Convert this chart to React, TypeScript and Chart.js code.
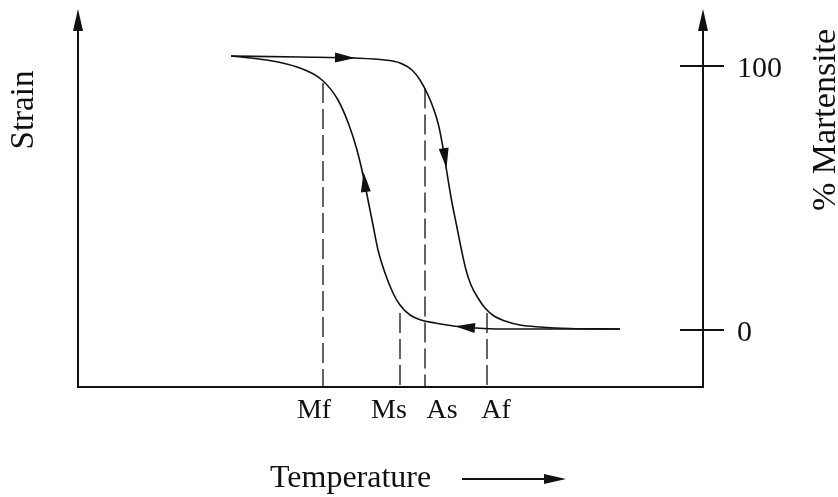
import React, { useEffect, useRef } from "react";
import { Chart, registerables } from "chart.js";

Chart.register(...registerables);

// Heating path (upper branch): temperature vs % martensite
const heatingX = [24.48, 35.52, 44.32, 49.12, 51.52, 53.44, 54.72, 56.0, 56.96, 57.68, 58.32, 58.96, 59.76, 60.56, 61.36, 62.08, 62.88, 64.0, 65.12, 66.56, 68.32, 70.72, 73.92, 78.72, 86.72];
const heatingY = [103.79, 103.41, 103.03, 102.27, 101.14, 98.48, 94.7, 89.02, 83.33, 77.65, 70.08, 60.61, 49.24, 39.77, 30.3, 22.73, 17.05, 12.12, 8.33, 5.3, 3.41, 1.89, 1.14, 0.57, 0.38];

// Cooling path (lower branch)
const coolingX = [24.48, 30.24, 35.04, 39.04, 41.6, 43.36, 44.64, 45.6, 46.4, 47.2, 48.0, 49.12, 50.4, 51.52, 53.12, 54.88, 57.12, 59.04, 61.44, 63.52, 67.52, 86.72];
const coolingY = [103.79, 102.27, 99.62, 94.7, 87.12, 77.65, 68.18, 58.71, 49.24, 39.77, 30.3, 21.59, 14.02, 9.47, 5.68, 3.79, 2.65, 1.89, 1.14, 0.76, 0.38, 0.38];

// Transformation temperatures (dashed markers)
const transNames = ["Mf", "Ms", "As", "Af"];
const transX = [39.2, 51.52, 55.52, 65.44];
const transTopY = [93.56, 6.44, 91.5, 6.44];
const transLabelX = [37.76, 49.76, 58.24, 66.88];

// Direction arrows on the curves (tip and base points)
const arrowTipX = [44.32, 58.96, 45.68, 60.32];
const arrowTipY = [103.03, 61.36, 59.85, 1.4];
const arrowBaseX = [41.12, 58.48, 46.08, 63.2];
const arrowBaseY = [103.18, 69.32, 51.89, 0.8];

// Right axis ticks
const martensiteTicks = [0, 100];
const martensiteTickLabels = ["0", "100"];

const X_MIN = 0;
const X_MAX = 100;
const Y_MIN = -21.6;
const Y_MAX = 121.6;

const FONT = '"Liberation Serif", "Times New Roman", serif';
const INK = "#111";

function zip(xs: number[], ys: number[]) {
  return xs.map((x, i) => ({ x, y: ys[i] }));
}

function arrowHead(ctx: CanvasRenderingContext2D, tx: number, ty: number, bx: number, by: number, len: number, hw: number) {
  const dx = tx - bx;
  const dy = ty - by;
  const d = Math.hypot(dx, dy) || 1;
  const ux = dx / d;
  const uy = dy / d;
  const px = tx - ux * len;
  const py = ty - uy * len;
  ctx.beginPath();
  ctx.moveTo(tx, ty);
  ctx.lineTo(px - uy * hw, py + ux * hw);
  ctx.lineTo(px + uy * hw, py - ux * hw);
  ctx.closePath();
  ctx.fill();
}

const diagramPlugin = {
  id: "diagram",
  beforeDraw(chart: any) {
    const ctx = chart.ctx;
    ctx.save();
    ctx.fillStyle = "#fff";
    ctx.fillRect(0, 0, chart.width, chart.height);
    ctx.restore();
  },
  afterDatasetsDraw(chart: any) {
    const ctx: CanvasRenderingContext2D = chart.ctx;
    const xs = chart.scales.x;
    const ys = chart.scales.y;
    const left = xs.getPixelForValue(X_MIN);
    const right = xs.getPixelForValue(X_MAX);
    const bottom = ys.getPixelForValue(Y_MIN);
    const top = ys.getPixelForValue(Y_MAX);

    ctx.save();
    ctx.strokeStyle = INK;
    ctx.fillStyle = INK;
    ctx.lineWidth = 2;

    // left (strain) axis
    ctx.beginPath();
    ctx.moveTo(left, bottom + 1);
    ctx.lineTo(left, top + 18);
    ctx.stroke();
    arrowHead(ctx, left, top, left, top + 22, 22, 5);

    // bottom (temperature) axis
    ctx.beginPath();
    ctx.moveTo(left - 1, bottom);
    ctx.lineTo(right + 1, bottom);
    ctx.stroke();

    // right (% martensite) axis
    ctx.beginPath();
    ctx.moveTo(right, bottom);
    ctx.lineTo(right, top + 18);
    ctx.stroke();
    arrowHead(ctx, right, top, right, top + 22, 22, 5);

    // right axis ticks and labels
    ctx.lineWidth = 1.8;
    ctx.font = `30px ${FONT}`;
    ctx.textAlign = "left";
    ctx.textBaseline = "alphabetic";
    martensiteTicks.forEach((v, i) => {
      const y = ys.getPixelForValue(v);
      ctx.beginPath();
      ctx.moveTo(right - 23, y);
      ctx.lineTo(right + 21, y);
      ctx.stroke();
      ctx.fillText(martensiteTickLabels[i], right + 34, y + 11);
    });

    // arrows on curves
    for (let i = 0; i < arrowTipX.length; i++) {
      arrowHead(
        ctx,
        xs.getPixelForValue(arrowTipX[i]),
        ys.getPixelForValue(arrowTipY[i]),
        xs.getPixelForValue(arrowBaseX[i]),
        ys.getPixelForValue(arrowBaseY[i]),
        20,
        5
      );
    }

    // transformation labels
    ctx.font = `28px ${FONT}`;
    ctx.textAlign = "center";
    transNames.forEach((n, i) => {
      ctx.fillText(n, xs.getPixelForValue(transLabelX[i]), bottom + 31);
    });

    // axis titles
    ctx.font = `32px ${FONT}`;
    ctx.textAlign = "left";
    ctx.fillText("Temperature", 270, bottom + 100);
    ctx.lineWidth = 1.8;
    ctx.beginPath();
    ctx.moveTo(462, bottom + 92);
    ctx.lineTo(548, bottom + 92);
    ctx.stroke();
    arrowHead(ctx, 566, bottom + 92, 544, bottom + 92, 22, 5);

    ctx.save();
    ctx.font = `33px ${FONT}`;
    ctx.translate(left - 45, 110);
    ctx.rotate(-Math.PI / 2);
    ctx.textAlign = "center";
    ctx.fillText("Strain", 0, 0);
    ctx.restore();

    ctx.save();
    ctx.font = `34px ${FONT}`;
    ctx.translate(right + 132, 120);
    ctx.rotate(-Math.PI / 2);
    ctx.textAlign = "center";
    ctx.fillText("% Martensite", 0, 0);
    ctx.restore();

    ctx.restore();
  },
};

export default function App() {
  const ref = useRef<HTMLCanvasElement | null>(null);

  useEffect(() => {
    const canvas = ref.current;
    if (!canvas) return;
    const curve = (xs: number[], ys: number[]) => ({
      data: zip(xs, ys),
      showLine: true,
      borderColor: INK,
      borderWidth: 1.6,
      pointRadius: 0,
      fill: false,
      cubicInterpolationMode: "monotone" as const,
    });
    const dashed = transX.map((x, i) => ({
      data: [
        { x, y: transTopY[i] },
        { x, y: Y_MIN },
      ],
      showLine: true,
      borderColor: INK,
      borderWidth: 1.3,
      borderDash: [20, 6],
      pointRadius: 0,
      fill: false,
    }));
    const chart = new Chart(canvas, {
      type: "scatter",
      data: {
        datasets: [curve(heatingX, heatingY), curve(coolingX, coolingY), ...dashed] as any,
      },
      options: {
        responsive: false,
        animation: false,
        devicePixelRatio: 1,
        layout: { padding: { left: 78, right: 135, top: 9, bottom: 110 } },
        scales: {
          x: { type: "linear", min: X_MIN, max: X_MAX, display: false },
          y: { type: "linear", min: Y_MIN, max: Y_MAX, display: false },
        },
        plugins: { legend: { display: false }, tooltip: { enabled: false } },
        elements: { point: { radius: 0 } },
        events: [],
      },
      plugins: [diagramPlugin],
    });
    return () => chart.destroy();
  }, []);

  return (
    <div style={{ position: "absolute", left: 0, top: 0, width: 838, height: 497, background: "#fff" }}>
      <canvas ref={ref} width={838} height={497} style={{ display: "block" }} />
    </div>
  );
}
